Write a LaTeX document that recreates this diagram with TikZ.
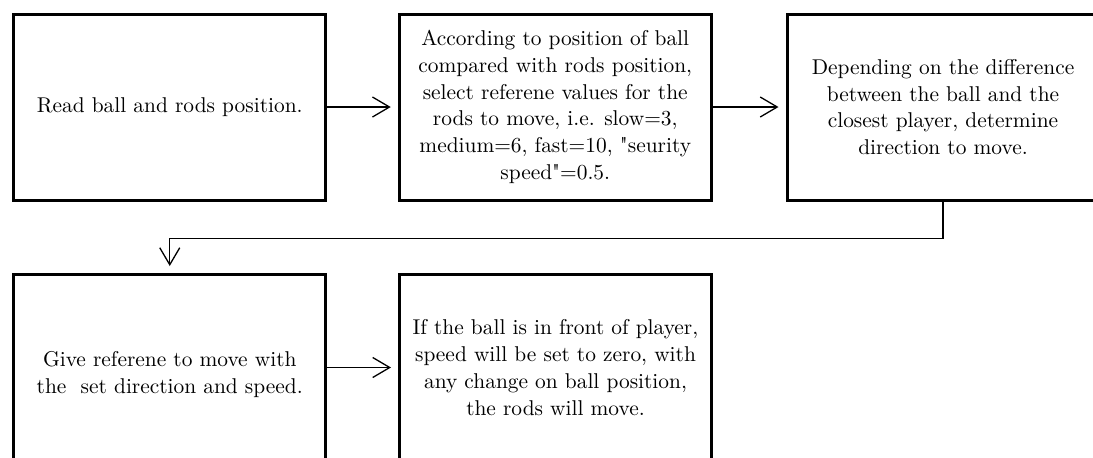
\documentclass[tikz,border=0pt]{standalone}
\usepackage{fontspec}
\usetikzlibrary{arrows.meta}
\tikzset{
  box/.style={draw, line width=1.5pt, minimum width=156pt, minimum height=93pt,
    align=center, inner sep=0pt, font=\fontsize{10.7}{13.4}\selectfont},
  conn/.style={line width=0.65pt, -{Straight Barb[length=8.5pt,width=10pt,line width=0.65pt]}, shorten >=3.5pt}
}
\begin{document}
\begin{tikzpicture}[x=0.5pt,y=-0.5pt]
\clip (0,0) rectangle (1093,457);
\useasboundingbox (0,0) rectangle (1093,457);
\node[box] (b1) at (169.75,107) {Read ball and rods position.};
\node[box] (b2) at (555.25,107) {According to position of ball\\compared with rods position,\\select referene values for the\\rods to move, i.e. slow=3,\\medium=6, fast=10, \textquotedbl seurity\\speed\textquotedbl=0.5.};
\node[box] (b3) at (943,107) {Depending on the difference\\between the ball and the\\closest player, determine\\direction to move.};
\node[box, text height=28pt] (b4) at (169.75,367.5) {Give referene to move with\\the\ \ set direction and speed.};
\node[box] (b5) at (555.5,367.5) {If the ball is in front of player,\\speed will be set to zero, with\\any change on ball position,\\the rods will move.};
\draw[conn] (b1) -- (b2);
\draw[conn] (b2) -- (b3);
\draw[conn] (b3.south) -- ++(0,37) -| (b4.north);
\draw[conn] (b4) -- (b5);
\end{tikzpicture}
\end{document}
